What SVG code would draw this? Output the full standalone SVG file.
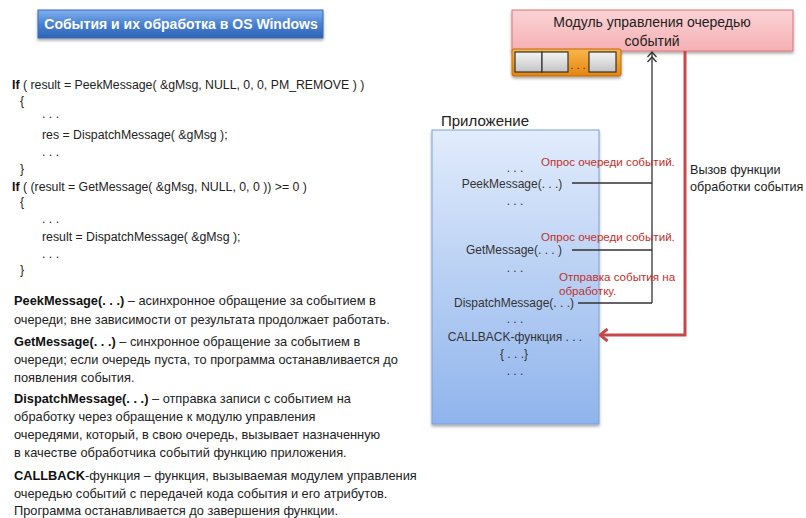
<svg xmlns="http://www.w3.org/2000/svg" width="806" height="518" viewBox="0 0 806 518">
  <style>
    text { font-family: "Liberation Sans", "DejaVu Sans", sans-serif; fill: #222; }
    .code { font-size: 12.3px; }
    .desc { font-size: 12.8px; fill: #333; }
    .b { font-weight: bold; fill: #111; }
    .app { font-size: 12px; text-anchor: middle; fill: #333; }
    .red { font-size: 11.6px; fill: #c0302a; }
    .note { font-size: 12.6px; fill: #222; }
    .wire { fill: none; stroke: #333; stroke-width: 1.3; }
    .call { fill: none; stroke: #c8474a; stroke-width: 3; }
    .cell { fill: url(#cellFill); stroke: #333; stroke-width: 1.2; }
  </style>
  <defs>
    <linearGradient id="titleFill" x1="0" y1="0" x2="0" y2="1">
      <stop offset="0" stop-color="#7fb0ec"/>
      <stop offset="0.5" stop-color="#4a82d4"/>
      <stop offset="1" stop-color="#2e62b4"/>
    </linearGradient>
    <linearGradient id="moduleFill" x1="0" y1="0" x2="0" y2="1">
      <stop offset="0" stop-color="#fbd3d5"/>
      <stop offset="1" stop-color="#f5b0b4"/>
    </linearGradient>
    <linearGradient id="appFill" x1="0" y1="0" x2="0" y2="1">
      <stop offset="0" stop-color="#e2ecfc"/>
      <stop offset="1" stop-color="#8fb4ec"/>
    </linearGradient>
    <linearGradient id="queueFill" x1="0" y1="0" x2="0" y2="1">
      <stop offset="0" stop-color="#f8b64a"/>
      <stop offset="1" stop-color="#e5850f"/>
    </linearGradient>
    <linearGradient id="cellFill" x1="0" y1="0" x2="0" y2="1">
      <stop offset="0" stop-color="#f4f4f4"/>
      <stop offset="1" stop-color="#c4c4c4"/>
    </linearGradient>
    <filter id="shadow" x="-10%" y="-30%" width="120%" height="180%">
      <feDropShadow dx="0" dy="2" stdDeviation="1.5" flood-color="#000" flood-opacity="0.35"/>
    </filter>
    <!-- open double chevron, drawn pointing along +x -->
    <marker id="dblChevron" markerWidth="14" markerHeight="12" refX="13" refY="6" orient="auto" markerUnits="userSpaceOnUse" viewBox="0 0 14 12">
      <path d="M8,1.5 L13,6 L8,10.5 M3,1.5 L8,6 L3,10.5" fill="none" stroke="#333" stroke-width="1.3"/>
    </marker>
    <!-- heavy open arrowhead for the callback line -->
    <marker id="redHead" markerWidth="14" markerHeight="14" refX="12.5" refY="7" orient="auto" markerUnits="userSpaceOnUse" viewBox="0 0 14 14">
      <path d="M5,1 L12.5,7 L5,13" fill="none" stroke="#c8474a" stroke-width="3"/>
    </marker>
  </defs>

  <!-- Title plate -->
  <g id="title">
    <rect x="38" y="10" width="285" height="28" fill="url(#titleFill)" stroke="#3a6bb5" stroke-width="1" filter="url(#shadow)"/>
    <text x="181" y="29" text-anchor="middle" font-size="14" font-weight="bold" style="fill:#fff">События и их обработка в OS Windows</text>
  </g>

  <!-- Code sample -->
  <g id="code" class="code">
    <text x="12" y="89"><tspan class="b">If</tspan> ( result = PeekMessage( &amp;gMsg, NULL, 0, 0, PM_REMOVE ) )</text>
    <text x="20" y="105">{</text>
    <text x="42" y="118">. . .</text>
    <text x="42" y="139">res = DispatchMessage( &amp;gMsg );</text>
    <text x="42" y="156">. . .</text>
    <text x="20" y="173">}</text>
    <text x="12" y="191"><tspan class="b">If</tspan> ( (result = GetMessage( &amp;gMsg, NULL, 0, 0 )) &gt;= 0 )</text>
    <text x="20" y="206">{</text>
    <text x="42" y="223">. . .</text>
    <text x="42" y="241">result = DispatchMessage( &amp;gMsg );</text>
    <text x="42" y="258">. . .</text>
    <text x="20" y="274">}</text>
  </g>

  <!-- Definitions -->
  <g id="definitions" class="desc">
    <text x="14" y="305"><tspan class="b">PeekMessage(. . .)</tspan> – асинхронное обращение за событием в</text>
    <text x="14" y="324">очереди; вне зависимости от результата продолжает работать.</text>
    <text x="14" y="346"><tspan class="b">GetMessage(. . .)</tspan> – синхронное обращение за событием в</text>
    <text x="14" y="364">очереди; если очередь пуста, то программа останавливается до</text>
    <text x="14" y="382">появления события.</text>
    <text x="14" y="403"><tspan class="b">DispatchMessage(. . .)</tspan> – отправка записи с событием на</text>
    <text x="14" y="421">обработку через обращение к модулю управления</text>
    <text x="14" y="439">очередями, который, в свою очередь, вызывает назначенную</text>
    <text x="14" y="457">в качестве обработчика событий функцию приложения.</text>
    <text x="14" y="480"><tspan class="b">CALLBACK</tspan>-функция – функция, вызываемая модулем управления</text>
    <text x="14" y="498">очередью событий с передачей кода события и его атрибутов.</text>
    <text x="14" y="515">Программа останавливается до завершения функции.</text>
  </g>

  <!-- Event queue manager -->
  <g id="queue-module">
    <rect x="512" y="10" width="281" height="41" fill="url(#moduleFill)" stroke="#d9767b" stroke-width="1" filter="url(#shadow)"/>
    <text x="652" y="27" text-anchor="middle" font-size="14">Модуль управления очередью</text>
    <text x="652" y="46" text-anchor="middle" font-size="14">событий</text>
  </g>

  <!-- Queue slots -->
  <g id="queue">
    <rect x="512" y="49" width="109" height="27" rx="2" fill="url(#queueFill)" stroke="#c26a0c" stroke-width="1" filter="url(#shadow)"/>
    <rect class="cell" x="515" y="52" width="27" height="20"/>
    <rect class="cell" x="542" y="52" width="26" height="20"/>
    <text x="578" y="69" text-anchor="middle" font-size="11" style="fill:#333">. . .</text>
    <rect class="cell" x="589" y="52" width="27" height="20"/>
  </g>

  <!-- Application -->
  <g id="application">
    <text x="441" y="126" font-size="15">Приложение</text>
    <rect x="432" y="130" width="167" height="294" fill="url(#appFill)" stroke="#7c9fd5" stroke-width="1" filter="url(#shadow)"/>
    <text class="app" x="515" y="172">. . .</text>
    <text class="app" x="512" y="188">PeekMessage(. . .)</text>
    <text class="app" x="515" y="205">. . .</text>
    <text class="app" x="514" y="254">GetMessage(. . . )</text>
    <text class="app" x="515" y="272">. . .</text>
    <text class="app" x="514" y="307">DispatchMessage(. . .)</text>
    <text class="app" x="515" y="323">. . .</text>
    <text class="app" x="515" y="341">CALLBACK-функция  . . .</text>
    <text class="app" x="514" y="358">{ . . .}</text>
    <text class="app" x="515" y="375">. . .</text>
  </g>

  <!-- Connectors -->
  <g id="connectors">
    <path class="wire" d="M572,183 H652 M572,250 H652 M578,303 H652"/>
    <path class="wire" d="M652,303 V52" marker-end="url(#dblChevron)"/>
    <path class="call" d="M685,51 V335 H600" marker-end="url(#redHead)"/>
  </g>

  <!-- Connector labels -->
  <g id="labels">
    <text class="red" x="541" y="166">Опрос очереди событий.</text>
    <text class="red" x="541" y="241">Опрос очереди событий.</text>
    <text class="red" x="559" y="281">Отправка события на</text>
    <text class="red" x="559" y="295">обработку.</text>
    <text class="note" x="690" y="174">Вызов функции</text>
    <text class="note" x="690" y="191">обработки события</text>
  </g>
</svg>
